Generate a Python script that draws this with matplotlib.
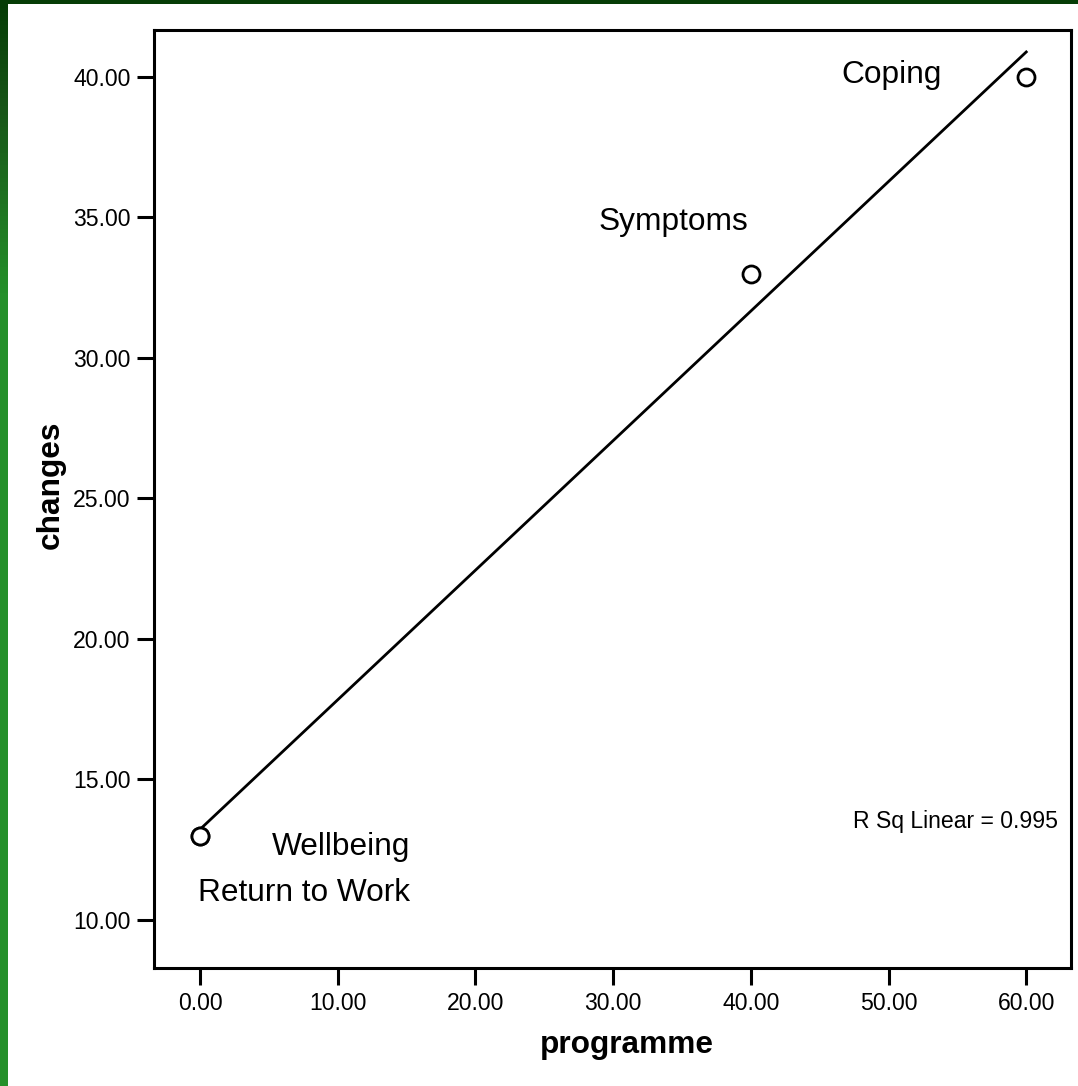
import numpy as np
import matplotlib
matplotlib.use('Agg')
import matplotlib.pyplot as plt
from matplotlib.colors import LinearSegmentedColormap

plt.rcParams['font.family'] = ['Liberation Sans', 'DejaVu Sans']

# data: programme score vs changes
labels = ['Wellbeing', 'Return to Work', 'Symptoms', 'Coping']
programme = [0, 0, 40, 60]
changes = [13, 13, 33, 40]
xticks = [0, 10, 20, 30, 40, 50, 60]
yticks = [10, 15, 20, 25, 30, 35, 40]

# label offsets in pixels (dx, dy) relative to each point, text right aligned
offsets = [(210, -11), (210, -57), (-3, 52), (-84, 2)]

fig = plt.figure(figsize=(10.78, 10.86), dpi=100)
fig.patch.set_facecolor('white')

# green frame: gradient strip on the left, dark band on top
strip = fig.add_axes([0, 0, 8 / 1078, 1])
grad = np.linspace(0, 1, 256).reshape(-1, 1)
cmap = LinearSegmentedColormap.from_list(
    'g', [(0, '#063d06'), (0.1, '#185618'), (0.27, '#25902a'), (1, '#25902a')])
strip.imshow(grad, aspect='auto', cmap=cmap, extent=[0, 1, 1, 0])
strip.axis('off')
top = fig.add_axes([0, 1 - 4 / 1086, 1, 4 / 1086])
top.set_facecolor('#063d06')
top.set_xticks([])
top.set_yticks([])
for s in top.spines.values():
    s.set_visible(False)

ax = fig.add_axes([154 / 1078, 118 / 1086, 917 / 1078, 938 / 1086])

slope, icpt = np.polyfit(programme, changes, 1)
pred = slope * np.array(programme) + icpt
r2 = 1 - np.sum((np.array(changes) - pred) ** 2) / np.sum((np.array(changes) - np.mean(changes)) ** 2)
xl = np.array([min(programme), max(programme)])
ax.plot(xl, slope * xl + icpt, color='black', lw=2, zorder=2)

ax.scatter(programme, changes, s=150, facecolor='white', edgecolor='black', linewidths=2, zorder=3)

for lab, x, y, (dx, dy) in zip(labels, programme, changes, offsets):
    ax.annotate(lab, (x, y), xytext=(dx, dy), textcoords='offset pixels',
                ha='right', va='center', fontsize=22.8)

ax.text(0.9855, 0.156, 'R Sq Linear = %.3f' % r2, transform=ax.transAxes,
        ha='right', va='center', fontsize=16.6)

ax.set_xlim(-3.34, 63.25)
ax.set_ylim(8.29, 41.67)
ax.set_xticks(xticks)
ax.set_yticks(yticks)
ax.set_xticklabels(['%.2f' % t for t in xticks])
ax.set_yticklabels(['%.2f' % t for t in yticks])
ax.tick_params(length=12, width=2.2, labelsize=16.6, pad=5, color='black')
for s in ax.spines.values():
    s.set_linewidth(2.2)

ax.text(0.516, -0.082, 'programme', transform=ax.transAxes, ha='center', va='center',
        fontsize=22.8, fontweight='bold')
ax.text(-0.113, 0.515, 'changes', transform=ax.transAxes, ha='center', va='center',
        rotation=90, fontsize=22.8, fontweight='bold')

fig.savefig('out.png', dpi=100)
